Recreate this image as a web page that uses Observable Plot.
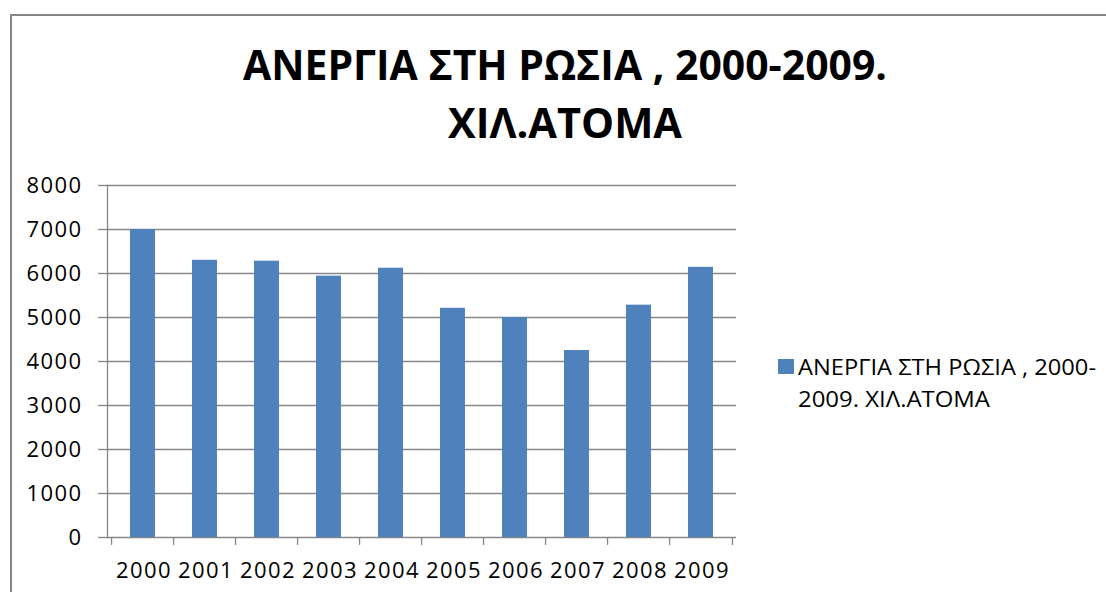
<!DOCTYPE html>
<html>
<head>
<meta charset="utf-8">
<script src="https://cdn.jsdelivr.net/npm/d3@7"></script>
<script src="https://cdn.jsdelivr.net/npm/@observablehq/plot@0.6"></script>
<style>
  html, body { margin: 0; padding: 0; background: #fff; }
  #wrap { position: relative; width: 1106px; height: 592px; overflow: hidden; font-family: "Open Sans", sans-serif; }
  #border { position: absolute; left: 10px; top: 14px; width: 1200px; height: 700px; border-top: 2px solid #858585; border-left: 2px solid #858585; box-sizing: border-box; }
  #chart, #overlay { position: absolute; left: 0; top: 0; }
</style>
</head>
<body>
<div id="wrap">
  <div id="border"></div>
  <div id="chart"></div>
  <svg id="overlay" width="1106" height="592"></svg>
</div>
<script>
const years = ["2000","2001","2002","2003","2004","2005","2006","2007","2008","2009"];
const values = [7000, 6300, 6280, 5940, 6120, 5210, 5000, 4250, 5280, 6140];
const yTicks = [0, 1000, 2000, 3000, 4000, 5000, 6000, 7000, 8000];
const titleLines = ["ΑΝΕΡΓΙΑ ΣΤΗ ΡΩΣΙΑ , 2000-2009.", "ΧΙΛ.ΑΤΟΜΑ"];
const legendLines = ["ΑΝΕΡΓΙΑ ΣΤΗ ΡΩΣΙΑ , 2000-", "2009. ΧΙΛ.ΑΤΟΜΑ"];

const data = years.map((y, i) => ({year: y, value: values[i]}));

const W = 1106, H = 592;
const mL = 107, mR = 370, mT = 185, mB = 55;
const step = (W - mL - mR) / years.length;
const grey = "#868686";
const barColor = "#4F81BD";

const chart = Plot.plot({
  width: W,
  height: H,
  marginLeft: mL,
  marginRight: mR,
  marginTop: mT,
  marginBottom: mB,
  style: {fontFamily: "Open Sans, sans-serif", fontSize: "22px", letterSpacing: "1.4px", background: "transparent", overflow: "visible"},
  x: {type: "band", domain: years, paddingInner: 0.6, paddingOuter: 0.3, label: null},
  y: {domain: [0, 8000], label: null},
  marks: [
    Plot.ruleY(yTicks, {y: d => d, stroke: grey, strokeWidth: 1.3}),
    Plot.barY(data, {x: "year", y: "value", fill: barColor}),
    Plot.ruleX(years, {x: d => d, y1: 0, y2: -180, dx: -step / 2, stroke: grey, strokeWidth: 1.3}),
    Plot.ruleX(years.slice(-1), {x: d => d, y1: 0, y2: -180, dx: step / 2, stroke: grey, strokeWidth: 1.3}),
    Plot.frame({anchor: "left", stroke: grey, strokeWidth: 1.3}),
    Plot.axisY({ticks: yTicks, tickSize: 9, tickPadding: 16, tickFormat: d => String(d), stroke: grey, fill: "#000", fontSize: 22, strokeWidth: 1.3}),
    Plot.axisX({tickSize: 0, tickPadding: 25, fill: "#000", fontSize: 22, dx: 1})
  ]
});
document.getElementById("chart").appendChild(chart);

const ov = d3.select("#overlay");
const tl = [644, 234];
titleLines.forEach((t, i) => {
  ov.append("text")
    .attr("x", 565).attr("y", 80 + i * 58)
    .attr("text-anchor", "middle")
    .attr("font-family", "Open Sans, sans-serif")
    .attr("font-weight", "bold")
    .attr("font-size", 41)
    .attr("textLength", tl[i])
    .attr("lengthAdjust", "spacingAndGlyphs")
    .attr("fill", "#000")
    .text(t);
});
ov.append("rect").attr("x", 778).attr("y", 359).attr("width", 16).attr("height", 15).attr("fill", barColor);
const ll = [298, 192];
legendLines.forEach((t, i) => {
  ov.append("text")
    .attr("x", 798).attr("y", 375 + i * 31.5)
    .attr("font-family", "Open Sans, sans-serif")
    .attr("font-size", 22)
    .attr("textLength", ll[i])
    .attr("lengthAdjust", "spacingAndGlyphs")
    .attr("fill", "#000")
    .text(t);
});
</script>
</body>
</html>
